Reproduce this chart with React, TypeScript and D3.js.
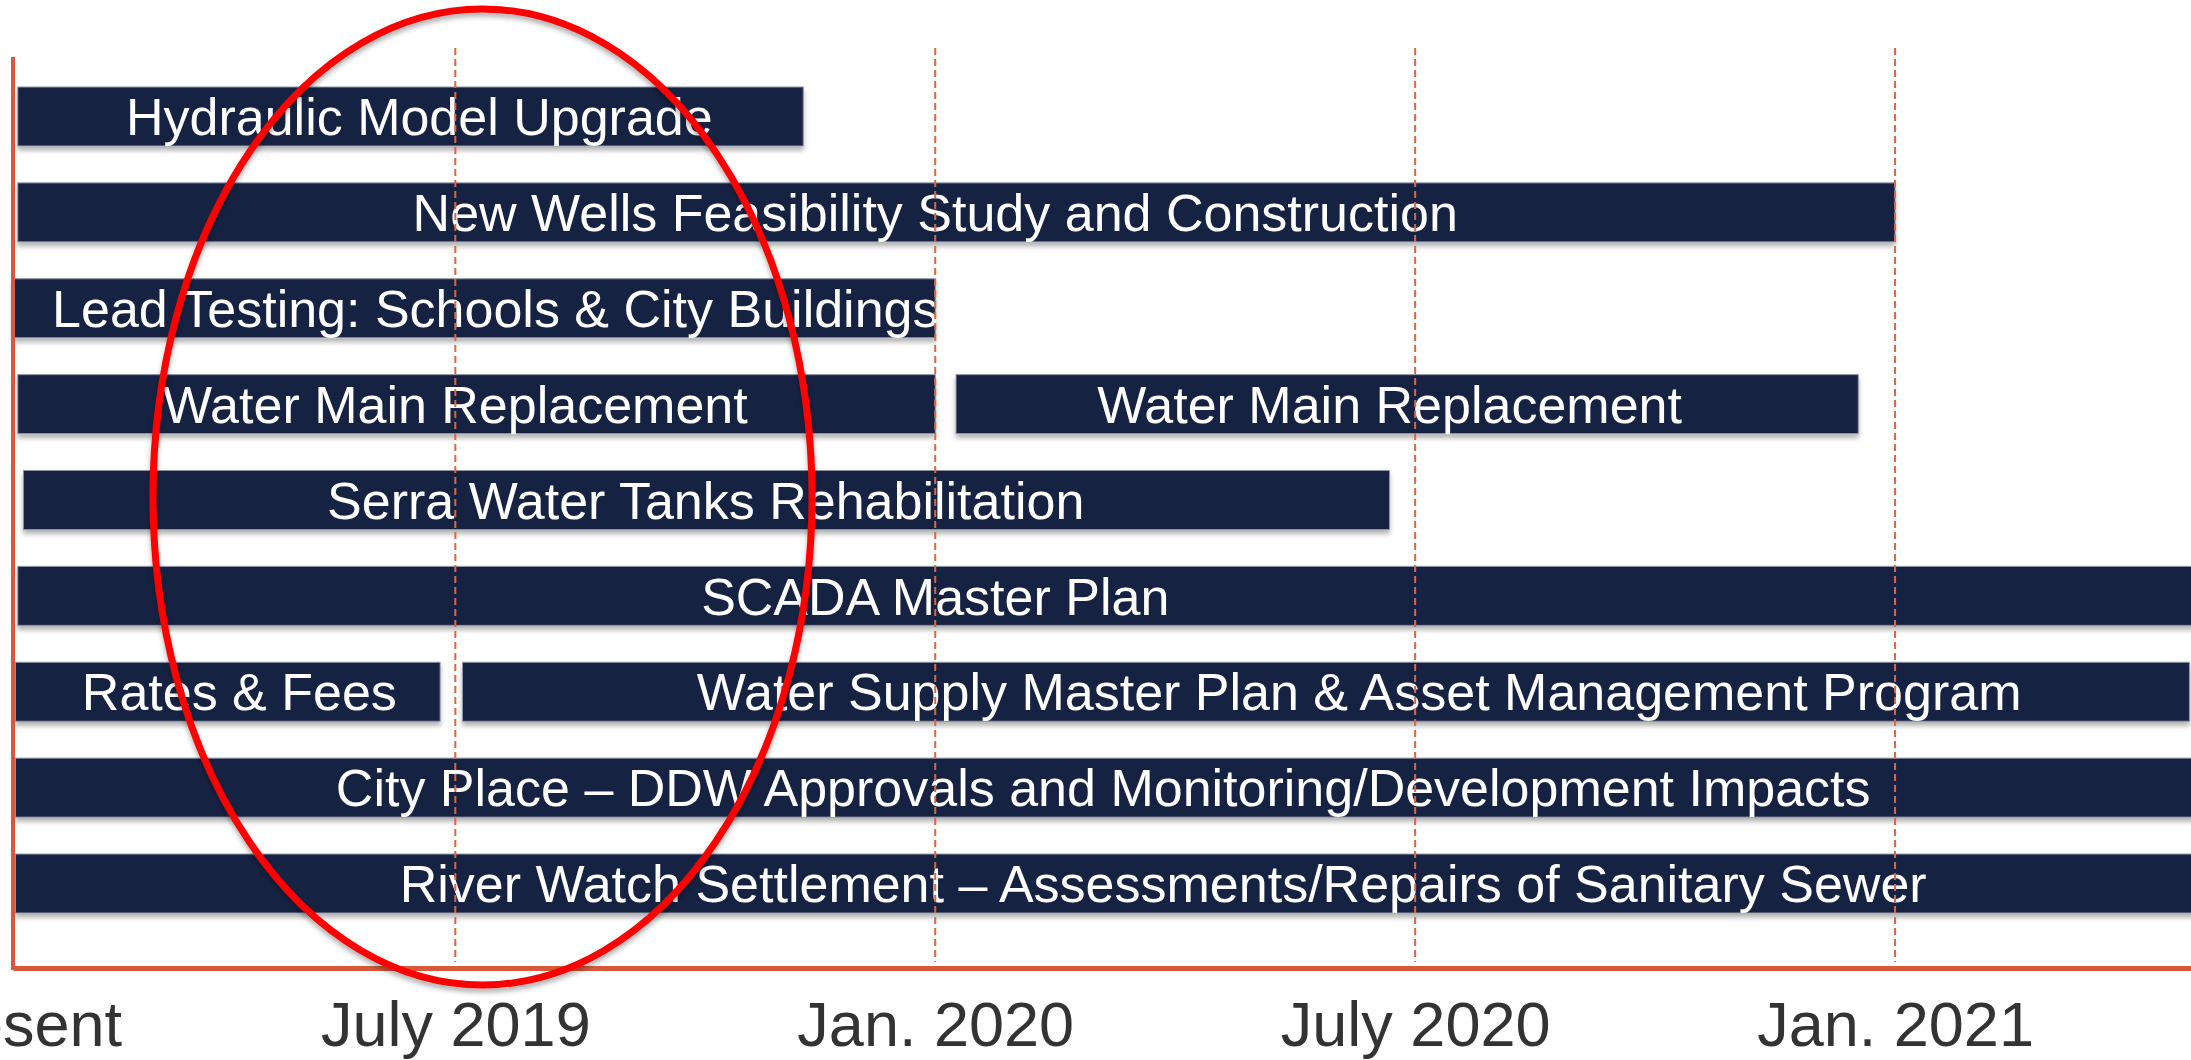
import React, { useEffect, useRef } from 'react';
import { axisBottom, scaleBand, scaleLinear, select } from 'd3';

const width = 2191;
const height = 1060;

// months counted from 1 Jan 2019 ("Present" is mid-January 2019)
const tickMonths = [0.47, 6, 12, 18, 24];
const tickLabels = ['Present', 'July 2019', 'Jan. 2020', 'July 2020', 'Jan. 2021'];

const rowIds = ['r0', 'r1', 'r2', 'r3', 'r4', 'r5', 'r6', 'r7', 'r8'];

const taskNames = [
  'Hydraulic Model Upgrade',
  'New Wells Feasibility Study and Construction',
  'Lead Testing: Schools & City Buildings',
  'Water Main Replacement',
  'Water Main Replacement',
  'Serra Water Tanks Rehabilitation',
  'SCADA Master Plan',
  'Rates & Fees',
  'Water Supply Master Plan & Asset Management Program',
  'City Place – DDW Approvals and Monitoring/Development Impacts',
  'River Watch Settlement – Assessments/Repairs of Sanitary Sewer',
];
const taskRows = ['r0', 'r1', 'r2', 'r3', 'r3', 'r4', 'r5', 'r6', 'r6', 'r7', 'r8'];
const taskStarts = [0.53, 0.53, 0.47, 0.53, 12.26, 0.6, 0.53, 0.5, 6.09, 0.5, 0.5];
const taskEnds = [10.35, 24, 12, 12, 23.54, 17.68, 28, 5.81, 27.68, 28, 28];
// month the label is centred on
const taskLabelAt = [5.55, 12, 6.5, 6, 17.68, 9.13, 12, 3.3, 17.3, 14.1, 14.85];

const navy = '#172243';
const orange = '#d9583a';
const font = '"Liberation Sans", Arial, Helvetica, sans-serif';

const App = () => {
  const ref = useRef<SVGSVGElement>(null);

  useEffect(() => {
    const svg = select(ref.current);
    svg.selectAll('*').remove();

    const tasks = taskNames.map((name, i) => ({
      name,
      row: taskRows[i],
      start: taskStarts[i],
      end: taskEnds[i],
      labelAt: taskLabelAt[i],
    }));

    const x = scaleLinear().domain([0.47, 28]).range([13, 2215]);
    const y = scaleBand().domain(rowIds).range([87, 913]).paddingInner(0.385).paddingOuter(0);

    const defs = svg.append('defs');
    const f = defs.append('filter').attr('id', 'shadow')
      .attr('x', '-5%').attr('y', '-20%').attr('width', '110%').attr('height', '150%');
    f.append('feDropShadow').attr('dx', 0).attr('dy', 4).attr('stdDeviation', 2.5)
      .attr('flood-color', '#000').attr('flood-opacity', 0.3);

    // bars
    const bars = svg.append('g');
    bars.selectAll('rect')
      .data(tasks)
      .enter()
      .append('rect')
      .attr('x', (d) => x(d.start))
      .attr('y', (d) => y(d.row))
      .attr('width', (d) => x(d.end) - x(d.start))
      .attr('height', y.bandwidth())
      .attr('fill', navy)
      .attr('stroke', '#8f95a6')
      .attr('stroke-width', 1)
      .attr('filter', 'url(#shadow)');

    bars.selectAll('text')
      .data(tasks)
      .enter()
      .append('text')
      .attr('x', (d) => x(d.labelAt))
      .attr('y', (d) => y(d.row) + y.bandwidth() / 2)
      .attr('dy', '0.36em')
      .attr('text-anchor', 'middle')
      .attr('fill', '#fff')
      .attr('font-family', font)
      .attr('font-size', 52)
      .text((d) => d.name);

    // left axis line
    svg.append('line')
      .attr('x1', x(0.47)).attr('x2', x(0.47))
      .attr('y1', 57).attr('y2', 970)
      .attr('stroke', orange)
      .attr('stroke-width', 4);

    // bottom axis
    const axis = svg.append('g')
      .attr('transform', 'translate(0,968)')
      .call(axisBottom(x)
        .tickValues(tickMonths)
        .tickFormat((d, i) => tickLabels[i])
        .tickSize(0)
        .tickSizeOuter(0)
        .tickPadding(33));
    axis.select('.domain')
      .attr('stroke', orange)
      .attr('stroke-width', 5);
    axis.selectAll('text')
      .attr('font-family', font)
      .attr('font-size', 63)
      .attr('fill', '#333');

    // dashed month guides
    svg.append('g')
      .selectAll('line')
      .data(tickMonths.slice(1))
      .enter()
      .append('line')
      .attr('x1', (d) => x(d))
      .attr('x2', (d) => x(d))
      .attr('y1', 48)
      .attr('y2', 962)
      .attr('stroke', '#e0643f')
      .attr('stroke-width', 2)
      .attr('stroke-dasharray', '7 4');

    // red annotation ellipse
    svg.append('ellipse')
      .attr('cx', x(6.34))
      .attr('cy', 497)
      .attr('rx', x(10.46) - x(6.34))
      .attr('ry', 488)
      .attr('fill', 'none')
      .attr('stroke', '#ff0000')
      .attr('stroke-width', 7)
      .attr('filter', 'url(#shadow)');
  }, []);

  return (
    <svg
      ref={ref}
      width={width}
      height={height}
      style={{ position: 'absolute', left: 0, top: 0, background: '#fff' }}
    />
  );
};

export default App;
